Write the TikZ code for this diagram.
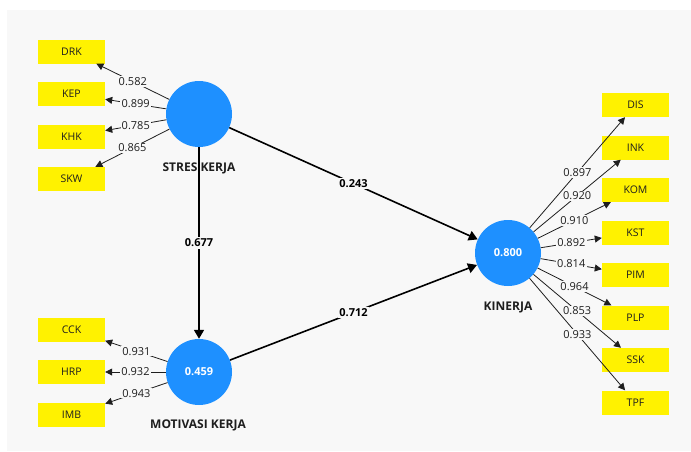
\documentclass[tikz,border=0pt]{standalone}
\usepackage{fontspec}
\setmainfont{Open Sans}
\usetikzlibrary{arrows.meta}
\definecolor{panel}{RGB}{248,248,248}
\definecolor{lvblue}{RGB}{30,144,255}
\definecolor{txt}{RGB}{30,30,30}
\tikzset{
  lv/.style={circle, fill=lvblue, minimum size=66pt, inner sep=0pt, text=white, font=\fontsize{11}{13}\selectfont\bfseries},
  mv/.style={rectangle, fill=yellow, minimum width=67pt, minimum height=24pt, inner sep=0pt, text=txt, font=\fontsize{10.5}{12}\selectfont},
  lvname/.style={text=txt, font=\fontsize{12}{14}\selectfont\bfseries, inner sep=0pt},
  ind/.style={draw=txt, line width=0.8pt, -{Triangle[length=7pt,width=7pt]}},
  path/.style={draw=black, line width=1.6pt, -{Triangle[length=9pt,width=10pt]}},
  lbl/.style={fill=panel, inner sep=1.2pt, text=txt, font=\fontsize{11}{13}\selectfont},
  plbl/.style={fill=panel, inner sep=1.5pt, text=black, font=\fontsize{11}{13}\selectfont\bfseries}
}
\begin{document}
\begin{tikzpicture}[x=1pt,y=-1pt]
\useasboundingbox (0,0) rectangle (691,451);
\fill[white] (0,0) rectangle (691,451);
\fill[panel] (7,10) rectangle (691,451);

% latent variables
\node[lv] (sk) at (199,114) {};
\node[lv] (mk) at (199,372) {0.459};
\node[lv] (kin) at (508,253) {0.800};

% indicators left
\node[mv] (drk) at (71.5,51.5) {DRK};
\node[mv] (kep) at (71.5,94) {KEP};
\node[mv] (khk) at (71.5,136.5) {KHK};
\node[mv] (skw) at (71.5,179) {SKW};
\node[mv] (cck) at (71.5,329.5) {CCK};
\node[mv] (hrp) at (71.5,372) {HRP};
\node[mv] (imb) at (71.5,415) {IMB};

% indicators right
\node[mv] (dis) at (635.5,105) {DIS};
\node[mv] (ink) at (635.5,147.5) {INK};
\node[mv] (kom) at (635.5,190) {KOM};
\node[mv] (kst) at (635.5,232.5) {KST};
\node[mv] (pim) at (635.5,275) {PIM};
\node[mv] (plp) at (635.5,317.5) {PLP};
\node[mv] (ssk) at (635.5,360) {SSK};
\node[mv] (tpf) at (635.5,402.5) {TPF};

% outer loadings
\draw[ind] (sk) -- node[lbl]{0.582} (drk);
\draw[ind] (sk) -- node[lbl]{0.899} (kep);
\draw[ind] (sk) -- node[lbl]{0.785} (khk);
\draw[ind] (sk) -- node[lbl]{0.865} (skw);
\draw[ind] (mk) -- node[lbl]{0.931} (cck);
\draw[ind] (mk) -- node[lbl]{0.932} (hrp);
\draw[ind] (mk) -- node[lbl]{0.943} (imb);
\draw[ind] (kin) -- node[lbl]{0.897} (dis);
\draw[ind] (kin) -- node[lbl]{0.920} (ink);
\draw[ind] (kin) -- node[lbl]{0.910} (kom);
\draw[ind] (kin) -- node[lbl]{0.892} (kst);
\draw[ind] (kin) -- node[lbl]{0.814} (pim);
\draw[ind] (kin) -- node[lbl]{0.964} (plp);
\draw[ind] (kin) -- node[lbl]{0.853} (ssk);
\draw[ind] (kin) -- node[lbl]{0.933} (tpf);

% structural paths
\draw[path] (sk) -- node[plbl]{0.677} (mk);
\draw[path] (sk) -- node[plbl]{0.243} (kin);
\draw[path] (mk) -- node[plbl]{0.712} (kin);

% latent names (vertical path line passes through the first one)
\node[lvname] (skn) at (199,168) {STRES KERJA};
\node[lvname] (mkn) at (198,425) {MOTIVASI KERJA};
\node[lvname] (kinn) at (508,307) {KINERJA};
\draw[black, line width=1.6pt] (sk.south) -- (skn.south);
\end{tikzpicture}
\end{document}
